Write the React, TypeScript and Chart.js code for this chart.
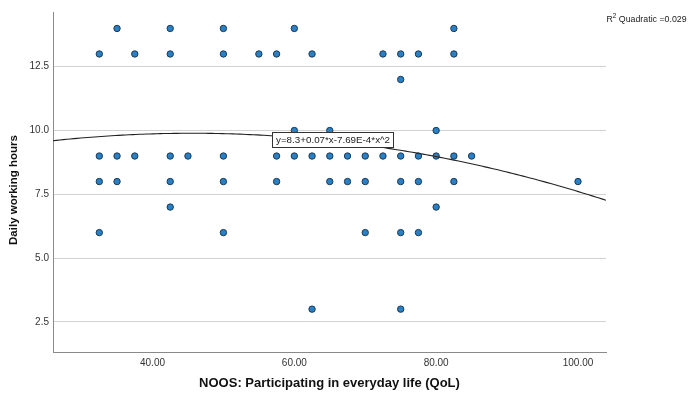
import React, { useEffect, useRef } from "react";
import { Chart, registerables } from "chart.js";

Chart.register(...registerables);

// NOOS participation score (QoL) for each respondent
const qolScores = [
  35, 42.5, 50, 60, 82.5,
  32.5, 37.5, 42.5, 50, 55, 57.5, 62.5, 72.5, 75, 77.5, 82.5,
  75,
  60, 65, 80,
  32.5, 35, 37.5, 42.5, 45, 50, 57.5, 60, 62.5, 65, 67.5, 70, 72.5, 75, 77.5, 80, 82.5, 85,
  32.5, 35, 42.5, 50, 57.5, 65, 67.5, 70, 75, 77.5, 82.5, 100,
  42.5, 80,
  32.5, 50, 70, 75, 77.5,
  62.5, 75,
];

// Daily working hours, paired with qolScores
const workHours = [
  14, 14, 14, 14, 14,
  13, 13, 13, 13, 13, 13, 13, 13, 13, 13, 13,
  12,
  10, 10, 10,
  9, 9, 9, 9, 9, 9, 9, 9, 9, 9, 9, 9, 9, 9, 9, 9, 9, 9,
  8, 8, 8, 8, 8, 8, 8, 8, 8, 8, 8, 8,
  7, 7,
  6, 6, 6, 6, 6,
  3, 3,
];

// Quadratic fit: y = b0 + b1*x + b2*x^2
const fitCoef = [8.3, 0.07, -7.69e-4];
const fitLabel = "y=8.3+0.07*x-7.69E-4*x^2";
const rSquaredValue = "0.029";
const fitLabelAnchor = { x: 56.9, y: 9.95 };

const xTicks = [40, 60, 80, 100];
const yTicks = [2.5, 5, 7.5, 10, 12.5];
const xRange = [25.97, 103.95];
const yRange = [1.32, 14.645];

const FONT = "'Liberation Sans', Arial, Helvetica, sans-serif";

const fitPoints = (() => {
  const pts: { x: number; y: number }[] = [];
  const steps = 160;
  for (let i = 0; i <= steps; i++) {
    const x = xRange[0] + ((xRange[1] - xRange[0]) * i) / steps;
    pts.push({ x, y: fitCoef[0] + fitCoef[1] * x + fitCoef[2] * x * x });
  }
  return pts;
})();

const overlayPlugin = {
  id: "fitOverlay",
  afterDraw(chart: any) {
    const { ctx, scales } = chart;
    const xs = scales.x;
    const ys = scales.y;

    // equation box
    ctx.save();
    ctx.font = `9.8px ${FONT}`;
    const tw = ctx.measureText(fitLabel).width;
    const bx = Math.round(xs.getPixelForValue(fitLabelAnchor.x)) + 0.5;
    const by = Math.round(ys.getPixelForValue(fitLabelAnchor.y)) + 0.5;
    const bw = Math.round(tw + 7);
    const bh = 15;
    ctx.fillStyle = "#ffffff";
    ctx.fillRect(bx, by, bw, bh);
    ctx.strokeStyle = "#333333";
    ctx.lineWidth = 1;
    ctx.strokeRect(bx, by, bw, bh);
    ctx.fillStyle = "#222222";
    ctx.textBaseline = "middle";
    ctx.textAlign = "left";
    ctx.fillText(fitLabel, bx + 3.5, by + bh / 2 + 0.5);
    ctx.restore();

    // R squared note
    ctx.save();
    ctx.fillStyle = "#222222";
    ctx.textBaseline = "alphabetic";
    ctx.textAlign = "left";
    let tx = 606.5;
    const base = 21.5;
    ctx.font = `8.8px ${FONT}`;
    ctx.fillText("R", tx, base);
    tx += ctx.measureText("R").width;
    ctx.font = `6.4px ${FONT}`;
    ctx.fillText("2", tx, base - 3.5);
    tx += ctx.measureText("2").width;
    ctx.font = `8.8px ${FONT}`;
    ctx.fillText(" Quadratic =" + rSquaredValue, tx, base);
    ctx.restore();

    // vertical axis title
    ctx.save();
    ctx.translate(14, 190);
    ctx.rotate(-Math.PI / 2);
    ctx.font = `bold 11.5px ${FONT}`;
    ctx.fillStyle = "#111111";
    ctx.textAlign = "center";
    ctx.textBaseline = "middle";
    ctx.fillText("Daily working hours", 0, 0);
    ctx.restore();
  },
};

export default function App() {
  const canvasRef = useRef<HTMLCanvasElement | null>(null);

  useEffect(() => {
    const canvas = canvasRef.current;
    if (!canvas) return;
    const points = qolScores.map((x, i) => ({ x, y: workHours[i] }));

    const chart = new Chart(canvas, {
      type: "scatter",
      data: {
        datasets: [
          {
            type: "line",
            label: "Quadratic fit",
            data: fitPoints,
            borderColor: "#222222",
            borderWidth: 1.1,
            pointRadius: 0,
            fill: false,
            tension: 0,
          } as any,
          {
            label: "Respondents",
            data: points,
            pointRadius: 3.2,
            pointBorderWidth: 1,
            pointBackgroundColor: "#2a80c4",
            pointBorderColor: "#1a3a58",
          },
        ],
      },
      options: {
        responsive: false,
        animation: false,
        devicePixelRatio: 1,
        layout: { padding: { top: 12, right: 83, left: 0, bottom: 0 } },
        plugins: {
          legend: { display: false },
          tooltip: { enabled: false },
        },
        scales: {
          x: {
            type: "linear",
            min: xRange[0],
            max: xRange[1],
            afterBuildTicks: (scale: any) => {
              scale.ticks = xTicks.map((v) => ({ value: v }));
            },
            afterFit: (scale: any) => {
              scale.height = 41;
            },
            grid: { display: false, drawTicks: false },
            border: { display: true, color: "#8a8a8a", width: 1 },
            ticks: {
              padding: 5,
              color: "#333333",
              font: { family: FONT, size: 10 },
              maxRotation: 0,
              callback: (v: any) => Number(v).toFixed(2),
            },
            title: {
              display: true,
              text: "NOOS: Participating in everyday life (QoL)",
              color: "#111111",
              font: { family: FONT, size: 13, weight: "bold" },
              padding: { top: 0, bottom: 2 },
            },
          },
          y: {
            type: "linear",
            min: yRange[0],
            max: yRange[1],
            afterBuildTicks: (scale: any) => {
              scale.ticks = yTicks.map((v) => ({ value: v }));
            },
            afterFit: (scale: any) => {
              scale.width = 53;
            },
            grid: { display: true, drawTicks: false, color: "#d2d2d2", lineWidth: 1 },
            border: { display: true, color: "#8a8a8a", width: 1 },
            ticks: {
              padding: 4,
              color: "#333333",
              font: { family: FONT, size: 10 },
              callback: (v: any) => Number(v).toFixed(1),
            },
          },
        },
      },
      plugins: [overlayPlugin],
    } as any);

    return () => chart.destroy();
  }, []);

  return (
    <div style={{ position: "fixed", left: 0, top: 0, width: 689, height: 393, background: "#ffffff" }}>
      <canvas ref={canvasRef} width={689} height={393} style={{ width: 689, height: 393, display: "block" }} />
    </div>
  );
}
